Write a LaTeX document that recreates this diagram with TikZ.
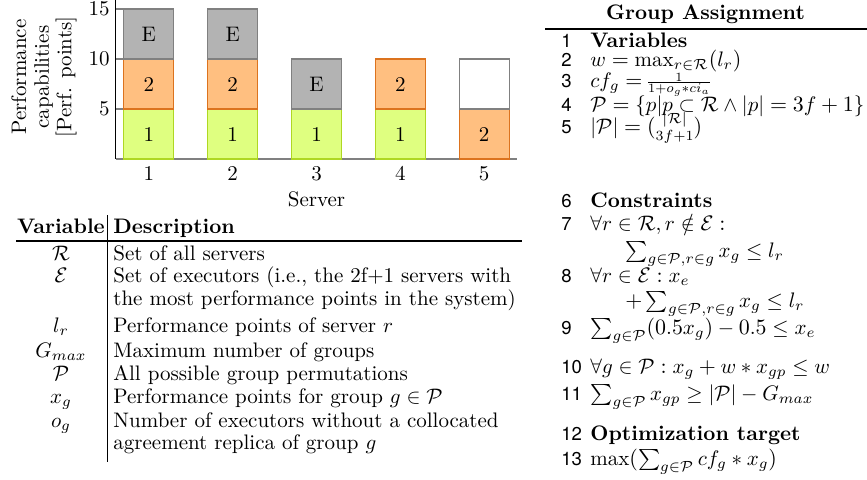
\documentclass[tikz,border=0pt]{standalone}
\usepackage{amsmath,amssymb}
\usepackage{graphicx}
\usepackage{fontspec}
\newfontfamily\numfont{TeX Gyre Heros}
% scalable math letters and symbols
\DeclareFontShape{OML}{cmm}{m}{it}{<-6>cmmi5<6-8>cmmi7<8->cmmi10}{\skewchar\font'177}
\DeclareFontShape{OMS}{cmsy}{m}{n}{<-6>cmsy5<6-8>cmsy7<8->cmsy10}{\skewchar\font'60}
\definecolor{grpgreen}{RGB}{223,255,128}
\definecolor{grpgreenline}{RGB}{175,215,35}
\definecolor{grporange}{RGB}{255,191,128}
\definecolor{grporangeline}{RGB}{220,115,30}
\definecolor{execgray}{RGB}{179,179,179}
\definecolor{execgrayline}{RGB}{128,128,128}
% compact fraction as used in line 3
\newcommand{\tightfrac}[2]{\lower1.4pt\hbox{\scalebox{0.9}{$\vcenter{\offinterlineskip\halign{\hfil$\scriptstyle##$\hfil\cr #1\cr\noalign{\kern0.4pt\hrule height0.4pt\kern0.6pt}#2\cr}}$}}}
\tikzset{
  every node/.append style={font=\fontsize{10.5}{12.6}\selectfont},
  seg/.style={minimum width=25pt, minimum height=25pt, inner sep=0pt, line width=0.6pt},
  grpone/.style={seg, fill=grpgreen, draw=grpgreenline},
  grptwo/.style={seg, fill=grporange, draw=grporangeline},
  execbox/.style={seg, fill=execgray, draw=execgrayline},
  freebox/.style={seg, fill=white, draw=execgrayline},
  lno/.style={anchor=base west, inner sep=0pt, font=\numfont\fontsize{9.3}{11}\selectfont},
  ltxt/.style={anchor=base west, inner sep=0pt},
  vname/.style={anchor=base, inner sep=0pt},
}
\begin{document}
\begin{tikzpicture}[x=0.5pt,y=-0.5pt]
\useasboundingbox (0,0) rectangle (867,479);

% bar chart
    \draw[execgrayline,line width=0.6pt] (115.7,159) -- (517,159);
    \draw[execgrayline,line width=0.6pt] (115.7,109) --++ (8,0);
    \draw[execgrayline,line width=0.6pt] (115.7,59) --++ (8,0);
    \draw[execgrayline,line width=0.6pt] (115.7,9) --++ (8,0);
    \draw[line width=0.6pt] (115.7,0) -- (115.7,159);

    \node[anchor=east,inner sep=0pt] (t5) at (110,109) {5};
    \node[anchor=east,inner sep=0pt] (t10) at (110,59) {10};
    \node[anchor=east,inner sep=0pt] (t15) at (110,9) {15};
    \node[rotate=90,align=center,inner sep=0pt,font=\fontsize{10.5}{11.3}\selectfont] (ylab) at (44,77) {Performance\\capabilities\\{[Perf. points]}};

    \node[grpone] (b1a) at (148.8,134) {1};
    \node[grptwo] (b1b) at (148.8,84) {2};
    \node[execbox] (b1c) at (148.8,34) {E};
    \node[grpone] (b2a) at (232.7,134) {1};
    \node[grptwo] (b2b) at (232.7,84) {2};
    \node[execbox] (b2c) at (232.7,34) {E};
    \node[grpone] (b3a) at (316.5,134) {1};
    \node[execbox] (b3b) at (316.5,84) {E};
    \node[grpone] (b4a) at (400.3,134) {1};
    \node[grptwo] (b4b) at (400.3,84) {2};
    \node[grptwo] (b5a) at (484.1,134) {2};
    \node[freebox] (b5b) at (484.1,84) {};

    \node[vname] (s1) at (148.8,180) {1};
    \node[vname] (s2) at (232.7,180) {2};
    \node[vname] (s3) at (316.5,180) {3};
    \node[vname] (s4) at (400.3,180) {4};
    \node[vname] (s5) at (484.1,180) {5};
    \node[vname] (xlab) at (316.5,206) {Server};

% variable table
    \node[vname] (hdvar) at (61,233) {\textbf{Variable}};
    \node[ltxt] (hddesc) at (113,233) {\textbf{Description}};
    \draw[line width=0.6pt] (16,241) -- (522,241);
    \draw[line width=0.4pt] (107.3,215) -- (107.3,462);

    \node[vname] (v1) at (61,260) {$\mathcal{R}$};
    \node[ltxt] (d1) at (113,260) {Set of all servers};
    \node[vname] (v2) at (61,282) {$\mathcal{E}$};
    \node[ltxt] (d2) at (113,282) {Set of executors (i.e., the 2f+1 servers with};
    \node[ltxt] (d2b) at (113,305) {the most performance points in the system)};
    \node[vname] (v3) at (61,332) {$l_r$};
    \node[ltxt] (d3) at (113,332) {Performance points of server $r$};
    \node[vname] (v4) at (61,357) {$G_{max}$};
    \node[ltxt] (d4) at (113,357) {Maximum number of groups};
    \node[vname] (v5) at (61,380) {$\mathcal{P}$};
    \node[ltxt] (d5) at (113,380) {All possible group permutations};
    \node[vname] (v6) at (61,403) {$x_g$};
    \node[ltxt] (d6) at (113,403) {Performance points for group $g \in \mathcal{P}$};
    \node[vname] (v7) at (61,427) {$o_g$};
    \node[ltxt] (d7) at (113,427) {Number of executors without a collocated};
    \node[ltxt] (d7b) at (113,449) {agreement replica of group $g$};

% group assignment
    \node[vname] (title) at (705.5,19) {\textbf{Group Assignment}};
    \draw[line width=0.6pt] (545,29) -- (867,29);

    \node[lno] (n1) at (561,47) {1};
    \node[ltxt] (l1) at (590,47) {\textbf{Variables}};
    \node[lno] (n2) at (561,66) {2};
    \node[ltxt] (l2) at (590,66) {$w = \max_{r \in \mathcal{R}}(l_r)$};
    \node[lno] (n3) at (561,87) {3};
    \node[ltxt] (l3) at (590,87) {$cf_g = \tightfrac{1}{1+o_g*ci_a}$};
    \node[lno] (n4) at (561,111) {4};
    \node[ltxt] (l4) at (590,111) {$\mathcal{P} = \{p | p \subset \mathcal{R} \land |p| = 3f+1\}$};
    \node[lno] (n5) at (561,133) {5};
    \node[ltxt] (l5) at (590,133) {$|\mathcal{P}| = \binom{|\mathcal{R}|}{3f+1}$};

    \node[lno] (n6) at (561,207) {6};
    \node[ltxt] (l6) at (590,207) {\textbf{Constraints}};
    \node[lno] (n7) at (561,230) {7};
    \node[ltxt] (l7) at (590,230) {$\forall r \in \mathcal{R}, r \notin \mathcal{E}:$};
    \node[ltxt] (l7b) at (625,257) {$\sum_{g \in \mathcal{P}, r \in g} x_g \le l_r$};
    \node[lno] (n8) at (561,282) {8};
    \node[ltxt] (l8) at (590,282) {$\forall r \in \mathcal{E}: x_e$};
    \node[ltxt] (l8b) at (625,307) {$+\sum_{g \in \mathcal{P}, r \in g} x_g \le l_r$};
    \node[lno] (n9) at (561,334) {9};
    \node[ltxt] (l9) at (590,334) {$\sum_{g \in \mathcal{P}}(0.5x_g) - 0.5 \le x_e$};

    \node[lno] (n10) at (561,373) {10};
    \node[ltxt] (l10) at (590,373) {$\forall g \in \mathcal{P}: x_g + w * x_{gp} \le w$};
    \node[lno] (n11) at (561,400) {11};
    \node[ltxt] (l11) at (590,400) {$\sum_{g \in \mathcal{P}} x_{gp} \ge |\mathcal{P}| - G_{max}$};

    \node[lno] (n12) at (561,440) {12};
    \node[ltxt] (l12) at (590,440) {\textbf{Optimization target}};
    \node[lno] (n13) at (561,465) {13};
    \node[ltxt] (l13) at (590,465) {max$(\sum_{g \in \mathcal{P}} cf_g * x_g)$};
\end{tikzpicture}
\end{document}
